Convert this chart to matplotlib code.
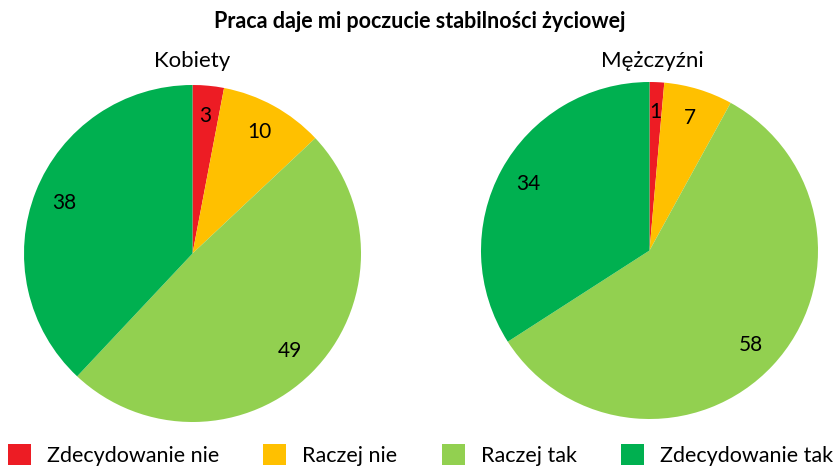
import matplotlib
matplotlib.use("Agg")
import matplotlib.pyplot as plt
from matplotlib.patches import Patch

plt.rcParams['font.family'] = ['Lato', 'DejaVu Sans']

# data (wedge sizes estimated, labels are rounded)
categories = ["Zdecydowanie nie", "Raczej nie", "Raczej tak", "Zdecydowanie tak"]
kobiety = [3, 10, 49, 38]
mezczyzni = [1.4, 6.6, 57.9, 34.1]
colors = ["#ED1C24", "#FFC000", "#92D050", "#00B050"]

W, H = 837, 468


def draw_pie(ax, values):
    total = sum(values)
    ax.pie(values, colors=colors, startangle=90, counterclock=False,
           autopct=lambda p: "%d" % round(p * total / 100), pctdistance=0.82,
           textprops={"fontsize": 15, "color": "black"},
           wedgeprops={"linewidth": 0})
    ax.set_xlim(-1, 1)
    ax.set_ylim(-1, 1)
    ax.set_aspect("equal")
    ax.axis("off")


fig = plt.figure(figsize=(W / 100, H / 100), dpi=100)

# pie axes placed in pixel units (left, top, size)
r = 337
ax1 = fig.add_axes([24 / W, 1 - (85 + r) / H, r / W, r / H])
ax2 = fig.add_axes([481 / W, 1 - (82 + r) / H, r / W, r / H])
draw_pie(ax1, kobiety)
draw_pie(ax2, mezczyzni)

fig.text(420 / W, 1 - 22 / H, "Praca daje mi poczucie stabilności życiowej",
         ha="center", va="center", fontsize=15.5, fontweight="bold")
fig.text(192 / W, 1 - 61 / H, "Kobiety", ha="center", va="center", fontsize=16)
fig.text(652 / W, 1 - 61 / H, "Mężczyźni", ha="center", va="center", fontsize=16)

handles = [Patch(facecolor=c, edgecolor="none") for c in colors]
fig.legend(handles, categories, loc="center left", bbox_to_anchor=(8 / W, 1 - 455 / H),
           ncol=4, frameon=False, fontsize=15.5, handlelength=1.07, handleheight=1.07,
           handletextpad=0.74, columnspacing=2.05, borderpad=0, borderaxespad=0)

fig.savefig("out.png", dpi=100)
